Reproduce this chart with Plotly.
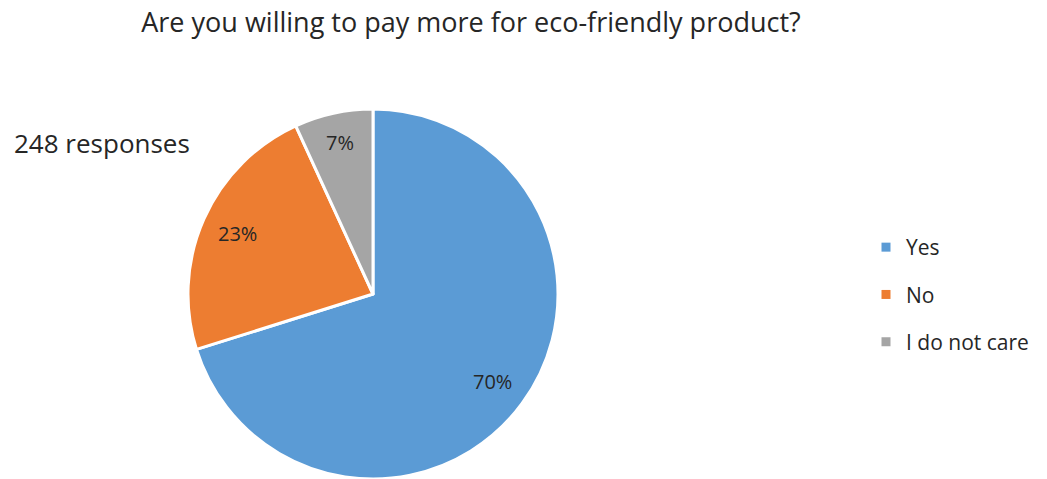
import math
import plotly.graph_objects as go

# Survey answers (248 responses)
categories = ["Yes", "No", "I do not care"]
counts = [174, 57, 17]
colors = ["#5B9BD5", "#ED7D31", "#A5A5A5"]
total_label = "248 responses"
title_text = "Are you willing to pay more for eco-friendly product?"

W, H = 1047, 479
FONT = "Open Sans"
TEXT_COLOR = "#262626"

# pie geometry in paper fractions
dom_x = [188 / W, 558 / W]
dom_y = [0.0, 370 / H]

fig = go.Figure()
fig.add_trace(go.Pie(
    labels=categories,
    values=counts,
    marker=dict(colors=colors, line=dict(color="white", width=3)),
    sort=False,
    direction="clockwise",
    rotation=0,
    textinfo="none",
    showlegend=False,
    domain=dict(x=dom_x, y=dom_y),
    hoverinfo="label+percent+value",
))

# percentage labels placed at ~80% of the radius, on each slice's mid-angle
cx = (dom_x[0] + dom_x[1]) / 2 * W
cy = (dom_y[0] + dom_y[1]) / 2 * H
r = (dom_x[1] - dom_x[0]) * W / 2
tot = sum(counts)
start = 0.0
for c in counts:
    frac = c / tot
    mid = (start + frac / 2) * 2 * math.pi
    start += frac
    k = 0.84 if frac < 0.1 else 0.8
    px = cx + k * r * math.sin(mid)
    py = cy + k * r * math.cos(mid)
    fig.add_annotation(
        x=px / W, y=py / H, xref="paper", yref="paper",
        xanchor="center", yanchor="middle",
        text=f"{round(frac * 100)}%", showarrow=False,
        font=dict(family=FONT, size=20, color=TEXT_COLOR),
    )

# legend entries as square swatches
for name, col in zip(categories, colors):
    fig.add_trace(go.Scatter(
        x=[None], y=[None], mode="markers", name=name,
        legendgroup=name,
        marker=dict(symbol="square", size=9, color=col),
    ))

fig.add_annotation(
    x=12 / W, y=1 - 143 / H, xref="paper", yref="paper",
    xanchor="left", yanchor="middle",
    text=total_label, showarrow=False,
    font=dict(family=FONT, size=26, color=TEXT_COLOR),
)

fig.update_layout(
    width=W, height=H,
    margin=dict(l=0, r=0, t=0, b=0),
    paper_bgcolor="white", plot_bgcolor="white",
    title=dict(text=title_text, x=471 / W, xanchor="center",
               y=1 - 23 / H, yanchor="middle",
               font=dict(family=FONT, size=27, color=TEXT_COLOR)),
    xaxis=dict(visible=False), yaxis=dict(visible=False),
    legend=dict(x=866 / W, y=1 - 227 / H, xanchor="left", yanchor="top",
                tracegroupgap=17, itemwidth=30,
                font=dict(family=FONT, size=21, color=TEXT_COLOR)),
)

fig.write_html("out.html")
